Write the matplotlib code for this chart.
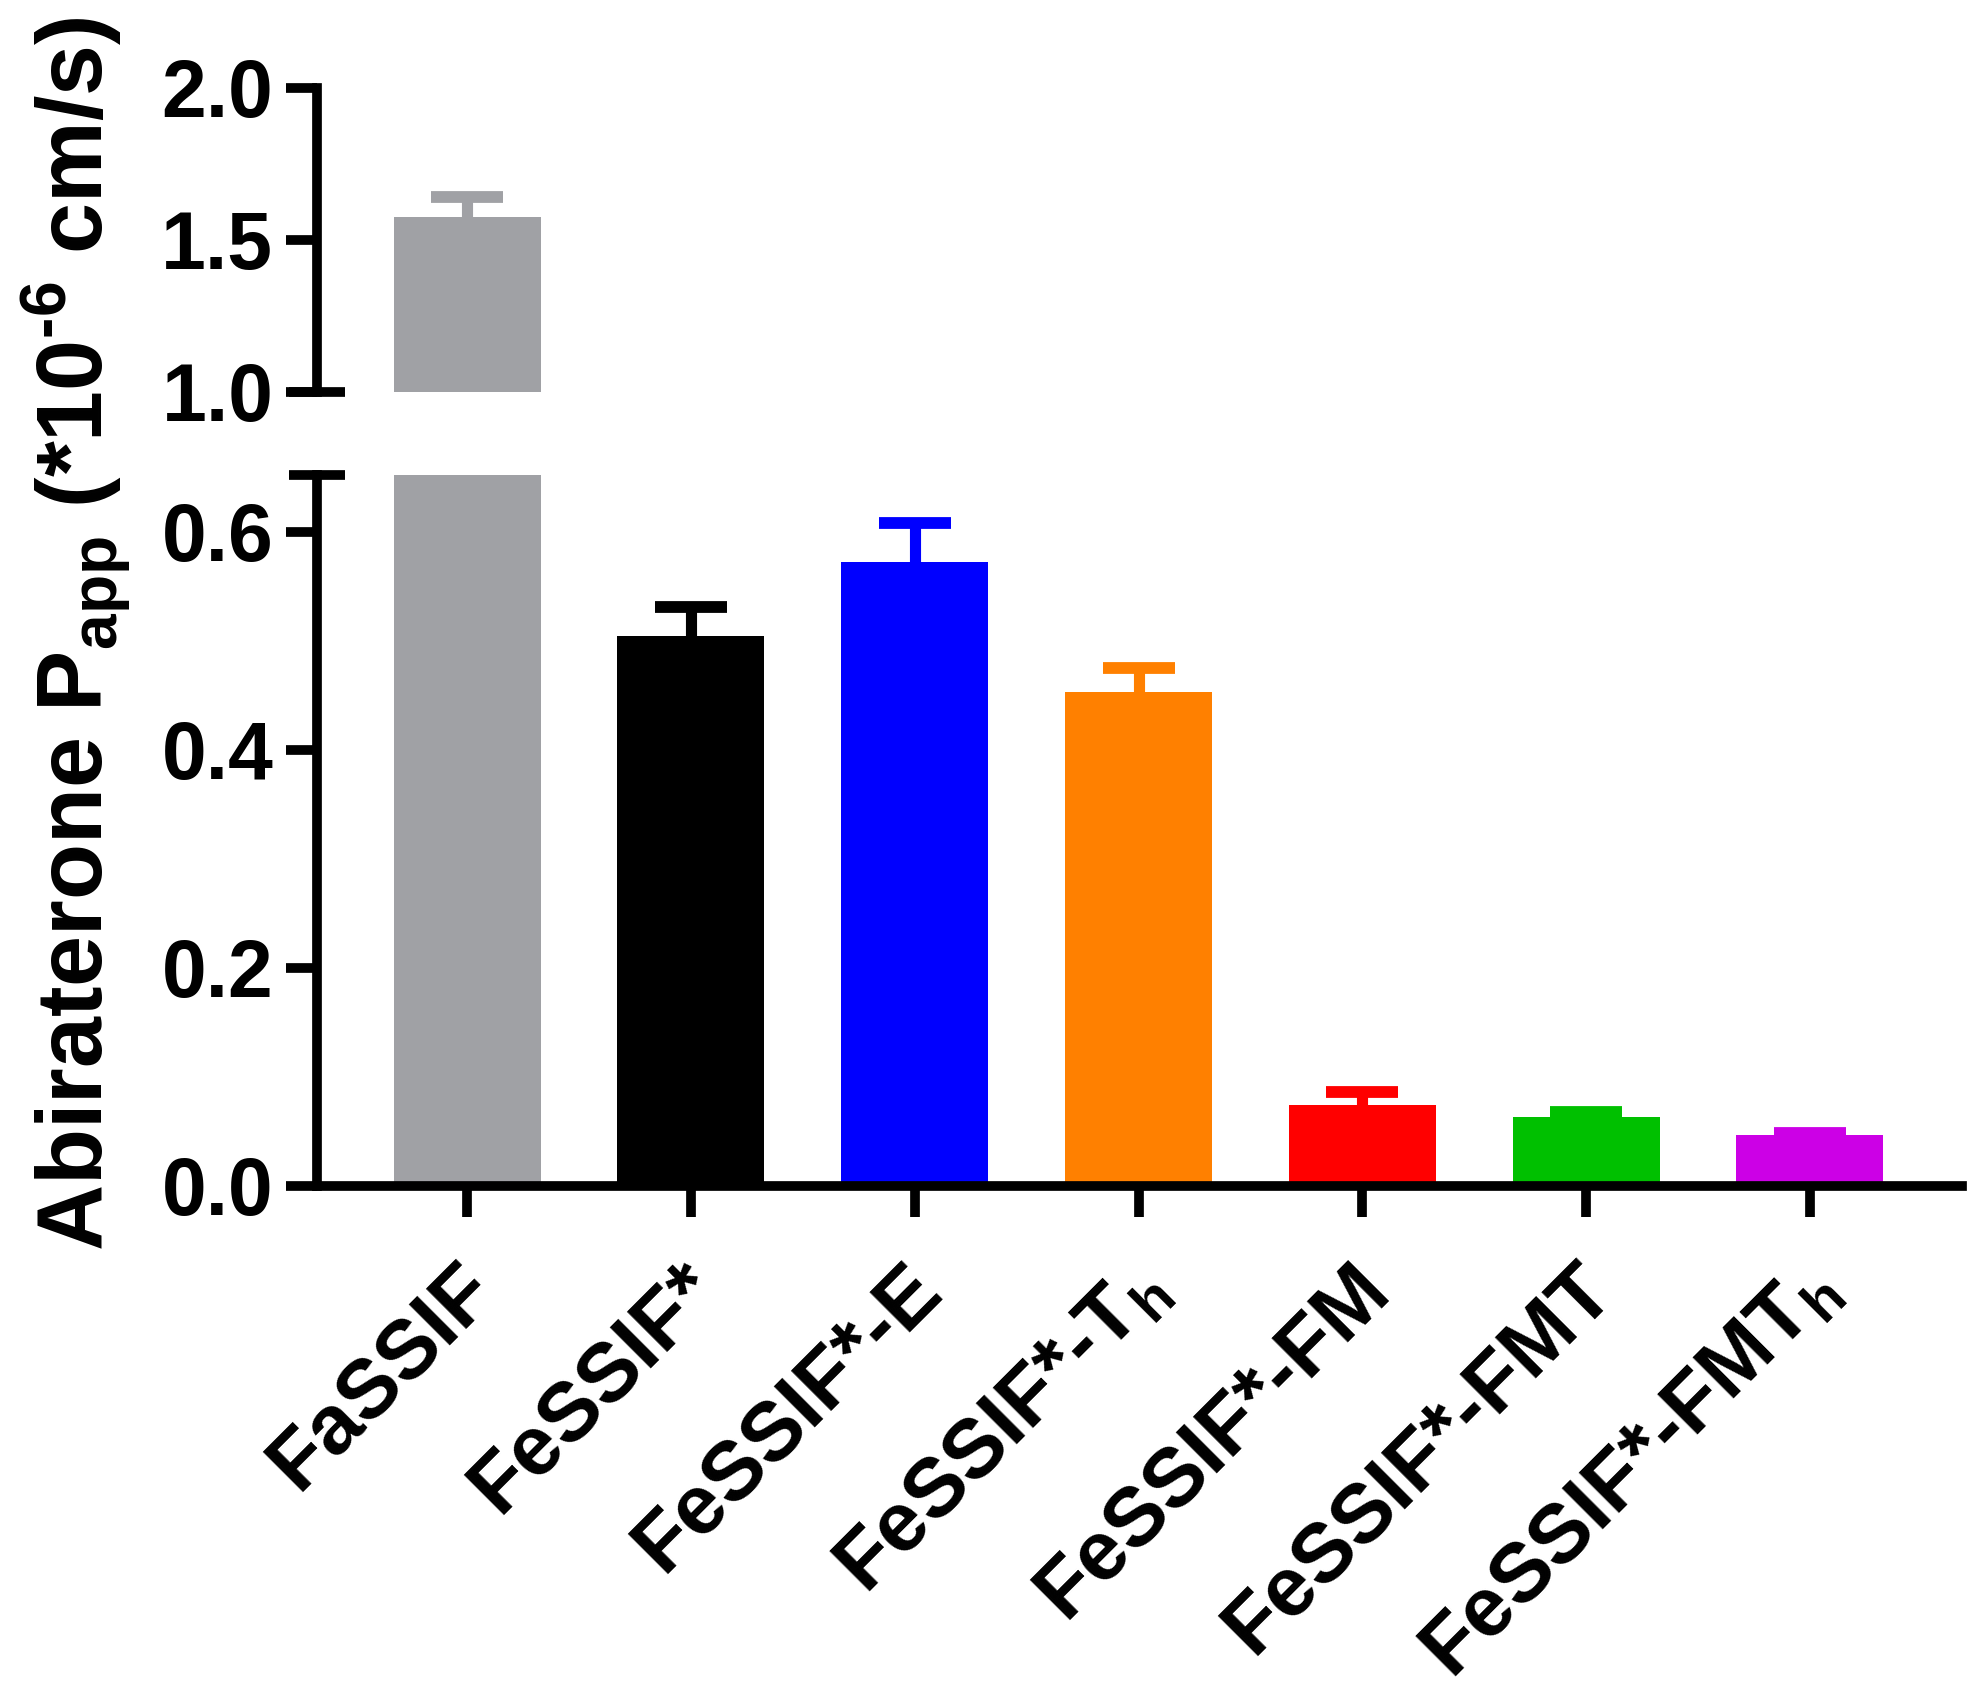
import numpy as np
import matplotlib
matplotlib.use('Agg')
import matplotlib.pyplot as plt
from matplotlib.transforms import ScaledTranslation

# data
categories = ['FaSSIF', 'FeSSIF*', 'FeSSIF*-E', r'FeSSIF*-T$_{\mathrm{h}}$',
              'FeSSIF*-FM', 'FeSSIF*-FMT', r'FeSSIF*-FMT$_{\mathrm{h}}$']
means = [1.577, 0.504, 0.572, 0.453, 0.074, 0.063, 0.047]
sems = [0.064, 0.027, 0.036, 0.022, 0.012, 0.005, 0.002]
colors = ['#A0A1A5', '#000000', '#0000FF', '#FF8000', '#FF0000', '#00C000', '#CC00E6']

upper_ticks = [1.0, 1.5, 2.0]
lower_ticks = [0.0, 0.2, 0.4, 0.6]

plt.rcParams['font.family'] = ['Liberation Sans', 'DejaVu Sans']
plt.rcParams['font.weight'] = 'bold'
plt.rcParams['mathtext.fontset'] = 'custom'
plt.rcParams['mathtext.rm'] = 'Liberation Sans'

fig = plt.figure(figsize=(19.88, 17.02), dpi=100)
left, width = 0.1595, 0.8275
ax_top = fig.add_axes([left, 0.7697, width, 0.1786])
ax_bot = fig.add_axes([left, 0.3032, width, 0.4177])

x = np.arange(len(categories))
lw = 7

for ax in (ax_top, ax_bot):
  ax.bar(x, means, width=0.657, color=colors, linewidth=0)
  for xi, m, s, c in zip(x, means, sems, colors):
    eb = ax.errorbar(xi, m, yerr=[[0], [s]], fmt='none', ecolor=c,
                     elinewidth=8, capsize=26, capthick=8.5)
    eb.lines[1][0].set_visible(False)   # hide the lower cap
  ax.set_xlim(-0.67, 6.68)
  ax.spines['right'].set_visible(False)
  ax.spines['top'].set_visible(False)
  ax.spines['left'].set_linewidth(lw)
  ax.spines['bottom'].set_linewidth(lw)
  ax.tick_params(axis='y', length=22.5, width=lw, labelsize=58, pad=9)
  ax.tick_params(axis='x', length=22.5, width=lw)

ax_top.set_ylim(1.0, 2.0)
ax_top.set_yticks(upper_ticks)
ax_top.set_yticklabels(['%.1f' % t for t in upper_ticks])
ax_top.spines['bottom'].set_visible(False)
ax_top.set_xticks([])

ax_bot.set_ylim(0.0, 0.652)
ax_bot.set_yticks(lower_ticks)
ax_bot.set_yticklabels(['%.1f' % t for t in lower_ticks])
ax_bot.set_xticks(x)
ax_bot.set_xticklabels(categories, rotation=45, ha='right', va='top',
                       rotation_mode='anchor', fontsize=60)
ax_bot.tick_params(axis='x', pad=23)
shift = ScaledTranslation(-0.13, 0, fig.dpi_scale_trans)
for lab in ax_bot.get_xticklabels():
  lab.set_transform(lab.get_transform() + shift)

# axis break marks
ax_top.plot([0], [0], marker='_', markersize=41, markeredgewidth=lw,
            color='black', transform=ax_top.transAxes, clip_on=False)
ax_bot.plot([0], [1], marker='_', markersize=41, markeredgewidth=lw,
            color='black', transform=ax_bot.transAxes, clip_on=False)

fig.text(76 / 1988, 1 - 634 / 1702,
         'Abiraterone P$_{\\mathregular{app}}$ (*10$^{\\mathregular{\u20106}}$ cm/s)',
         rotation=90, ha='center', va='center', fontsize=66, fontweight='bold')

fig.savefig('out.png', dpi=100)
